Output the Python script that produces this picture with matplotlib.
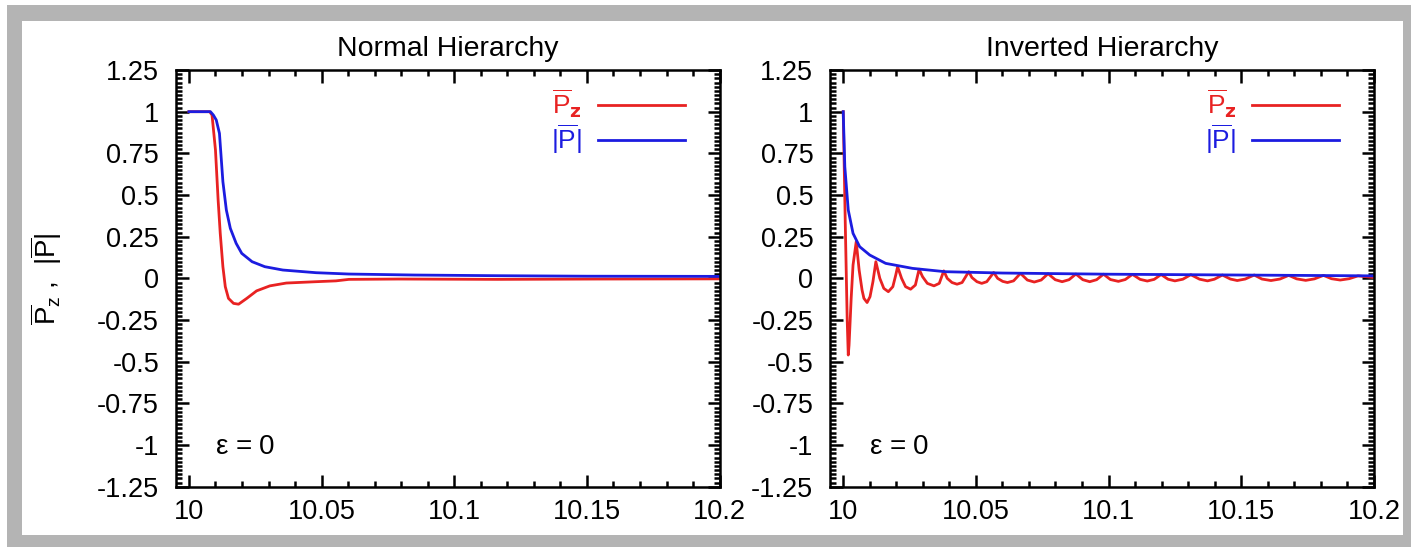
import matplotlib
matplotlib.use('Agg')
import matplotlib.pyplot as plt
from matplotlib.patches import Rectangle
from matplotlib.ticker import MultipleLocator, FixedLocator, FixedFormatter

plt.rcParams['font.family'] = ['Liberation Sans', 'DejaVu Sans']
plt.rcParams['mathtext.fontset'] = 'custom'
plt.rcParams['mathtext.rm'] = 'Liberation Sans'
plt.rcParams['mathtext.it'] = 'Liberation Sans:italic'

RED = '#e82222'
BLUE = '#1c1ce0'

# ---- data ----
titles = ['Normal Hierarchy', 'Inverted Hierarchy']

x_ticks = [10.0, 10.05, 10.1, 10.15, 10.2]
x_labels = ['10', '10.05', '10.1', '10.15', '10.2']
y_ticks = [1.25, 1.0, 0.75, 0.5, 0.25, 0.0, -0.25, -0.5, -0.75, -1.0, -1.25]
y_labels = ['1.25', '1', '0.75', '0.5', '0.25', '0', '-0.25', '-0.5', '-0.75', '-1', '-1.25']

# normal hierarchy
nh_pz_x = [10.0, 10.0078, 10.0087, 10.01, 10.011, 10.0118, 10.0128, 10.0137, 10.0149,
           10.0168, 10.0187, 10.0218, 10.0255, 10.0305, 10.0367, 10.0479, 10.0554,
           10.0603, 10.079, 10.1163, 10.1536, 10.2]
nh_pz_y = [1.0, 1.0, 0.98, 0.77, 0.47, 0.27, 0.07, -0.05, -0.12,
           -0.15, -0.155, -0.12, -0.075, -0.045, -0.028, -0.02, -0.015,
           -0.006, -0.004, -0.006, -0.004, -0.003]
nh_p_x = [10.0, 10.0081, 10.0092, 10.0103, 10.0115, 10.0128, 10.0141, 10.0156, 10.0178,
          10.0199, 10.0238, 10.0286, 10.0354, 10.0479, 10.0603, 10.0852, 10.1163,
          10.15, 10.2]
nh_p_y = [1.0, 1.0, 0.98, 0.95, 0.87, 0.58, 0.41, 0.30, 0.21,
          0.15, 0.10, 0.07, 0.05, 0.034, 0.026, 0.02, 0.016,
          0.013, 0.012]

# inverted hierarchy
ih_pz_x = [10.0, 10.00075, 10.0015, 10.0019, 10.0022, 10.003, 10.0037, 10.0049,
           10.006, 10.0071, 10.0078, 10.009, 10.0101, 10.0112, 10.0123,
           10.0138, 10.0153, 10.017, 10.0187, 10.0198, 10.0205,
           10.022, 10.0235, 10.0254, 10.0272, 10.0286,
           10.0299, 10.0317, 10.0342, 10.0362, 10.0379,
           10.0392, 10.041, 10.0429, 10.0448, 10.0473,
           10.0485, 10.0504, 10.0522, 10.0541, 10.0567,
           10.0582, 10.0601, 10.0619, 10.0642, 10.0668,
           10.0694, 10.072, 10.0746, 10.0772,
           10.0799, 10.0825, 10.0851, 10.0877,
           10.0903, 10.0929, 10.0955, 10.0981,
           10.1007, 10.1037, 10.1063, 10.109,
           10.1119, 10.1146, 10.1172, 10.1198,
           10.1224, 10.125, 10.128, 10.131,
           10.1343, 10.1373, 10.1399, 10.1429,
           10.1459, 10.1485, 10.1515, 10.1549,
           10.1578, 10.1612, 10.1646, 10.1679,
           10.1709, 10.1743, 10.1776, 10.181,
           10.184, 10.1873, 10.1907, 10.194, 10.2]
ih_pz_y = [1.0, 0.35, -0.25, -0.46, -0.40, -0.12, 0.08, 0.22,
           0.05, -0.07, -0.12, -0.145, -0.11, -0.02, 0.10,
           0.0, -0.06, -0.08, -0.05, 0.02, 0.07,
           0.0, -0.05, -0.065, -0.04, 0.055,
           0.01, -0.03, -0.045, -0.03, 0.045,
           0.0, -0.025, -0.035, -0.025, 0.04,
           0.005, -0.02, -0.03, -0.02, 0.035,
           0.0, -0.018, -0.025, -0.015, 0.03,
           -0.01, -0.022, -0.01, 0.028,
           -0.008, -0.02, -0.008, 0.026,
           -0.008, -0.02, -0.008, 0.025,
           -0.007, -0.018, -0.007, 0.024,
           -0.006, -0.016, -0.006, 0.023,
           -0.005, -0.015, -0.005, 0.022,
           -0.005, -0.015, -0.005, 0.02,
           -0.004, -0.013, -0.004, 0.02,
           -0.004, -0.013, -0.004, 0.018,
           -0.003, -0.012, -0.003, 0.018,
           -0.002, -0.01, -0.002, 0.015, 0.005]
ih_p_x = [10.0, 10.0006, 10.0019, 10.0037, 10.0062, 10.01, 10.016, 10.0261, 10.0384,
          10.06, 10.1, 10.15, 10.2]
ih_p_y = [1.0, 0.67, 0.41, 0.27, 0.19, 0.14, 0.09, 0.06, 0.04,
          0.032, 0.025, 0.02, 0.015]

panels = [(nh_pz_x, nh_pz_y, nh_p_x, nh_p_y), (ih_pz_x, ih_pz_y, ih_p_x, ih_p_y)]

fig = plt.figure(figsize=(14.11, 5.47), dpi=100)

# grey frame around the whole figure
fig.patches.append(Rectangle((7 / 1411, 0), 1404 / 1411, 542 / 547, transform=fig.transFigure,
                             facecolor='#b4b4b4', edgecolor='none', zorder=-2))
fig.patches.append(Rectangle((22 / 1411, 12 / 547), 1381 / 1411, 514 / 547, transform=fig.transFigure,
                             facecolor='white', edgecolor='none', zorder=-1))

lefts = [0.1245, 0.5882]
for i, (pzx, pzy, px, py) in enumerate(panels):
    ax = fig.add_axes([lefts[i], 0.1102, 0.3855, 0.7618])
    ax.patch.set_alpha(0)
    ax.plot(pzx, pzy, color=RED, lw=2.0, label=r'$\overline{\mathrm{P}}_{\mathbf{z}}$')
    ax.plot(px, py, color=BLUE, lw=2.0, label=r'$|\overline{\mathrm{P}}|$')

    ax.set_xlim(9.995, 10.2)
    ax.set_ylim(-1.25, 1.25)
    ax.xaxis.set_major_locator(FixedLocator(x_ticks))
    ax.xaxis.set_major_formatter(FixedFormatter(x_labels))
    ax.xaxis.set_minor_locator(MultipleLocator(0.01))
    ax.yaxis.set_major_locator(FixedLocator(y_ticks))
    ax.yaxis.set_major_formatter(FixedFormatter(y_labels))
    ax.yaxis.set_minor_locator(MultipleLocator(0.025))
    ax.tick_params(which='both', direction='in', top=True, right=True, width=1.8,
                   labelsize=19.5, colors='black')
    ax.tick_params(which='major', length=9)
    ax.tick_params(which='minor', length=4.5)
    ax.tick_params(axis='x', which='major', pad=9)
    ax.tick_params(axis='y', which='major', pad=12)
    for s in ax.spines.values():
        s.set_linewidth(1.8)

    ax.set_title(titles[i], fontsize=20.5, pad=10)
    ax.text(0.072, 0.095, r'$\mathrm{\varepsilon}$ = 0', transform=ax.transAxes,
            fontsize=20, va='center', ha='left')

    ax.legend(loc='upper right', bbox_to_anchor=(0.985, 1.022), markerfirst=False,
              frameon=False, labelcolor='linecolor', fontsize=19, handlelength=3.3,
              handletextpad=0.6, labelspacing=0.1, borderaxespad=0.6)

    if i == 0:
        ax.set_ylabel(r'$\overline{\mathrm{P}}_{\mathrm{z}}$ ,  $|\overline{\mathrm{P}}|$',
                      fontsize=20, labelpad=24)

fig.savefig('out.png', dpi=100)
